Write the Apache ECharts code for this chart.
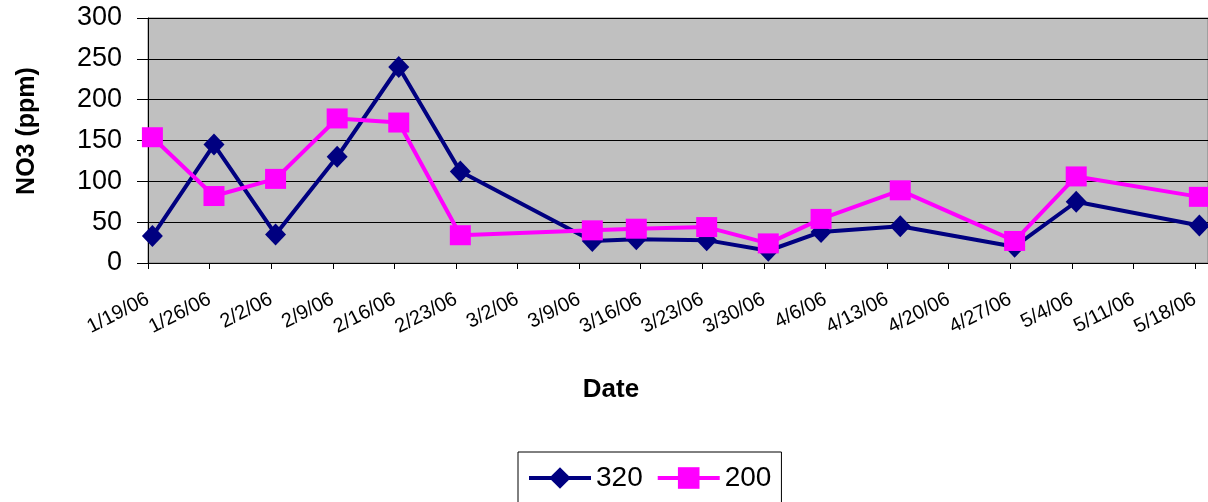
<!DOCTYPE html>
<html>
<head>
<meta charset="utf-8">
<script src="https://cdn.jsdelivr.net/npm/echarts@6/dist/echarts.min.js"></script>
<style>
  html, body { margin: 0; padding: 0; background: #fff; }
  #chart { width: 1208px; height: 502px; }
</style>
</head>
<body>
<div id="chart"></div>
<script>
// ---- data ----
const tickLabels = ['1/19/06','1/26/06','2/2/06','2/9/06','2/16/06','2/23/06','3/2/06','3/9/06',
  '3/16/06','3/23/06','3/30/06','4/6/06','4/13/06','4/20/06','4/27/06','5/4/06','5/11/06','5/18/06'];
const sampleDates = ['2006-01-19','2006-01-26','2006-02-02','2006-02-09','2006-02-16','2006-02-23',
  '2006-03-10','2006-03-15','2006-03-23','2006-03-30','2006-04-05','2006-04-14','2006-04-27',
  '2006-05-04','2006-05-18'];
const no3_320 = [33, 145, 35, 130, 240, 112, 27, 29, 28, 15, 38, 45, 20, 75, 46];
const no3_200 = [154, 82, 103, 177, 172, 34, 40, 42, 44, 24, 54, 89, 27, 106, 81];
const seriesNames = ['320', '200'];
const yTitle = 'NO3 (ppm)';
const xTitle = 'Date';

// ---- helpers ----
const axisStart = Date.UTC(2006, 0, 19);
function dayIndex(s) {
  const p = s.split('-').map(Number);
  return (Date.UTC(p[0], p[1] - 1, p[2]) - axisStart) / 86400000;
}
// Excel date axis places points in the middle of each day slot
function pairs(vals) {
  return sampleDates.map((d, i) => [dayIndex(d) + 0.5, vals[i]]);
}

const FONT = "'Liberation Sans', Arial, sans-serif";
const chart = echarts.init(document.getElementById('chart'), null, { renderer: 'canvas' });

chart.setOption({
  animation: false,
  backgroundColor: '#ffffff',
  textStyle: { fontFamily: FONT },
  grid: {
    left: 148, top: 18, right: -2, bottom: 239,
    show: true, backgroundColor: '#C0C0C0', borderColor: '#808080', borderWidth: 1
  },
  xAxis: {
    type: 'value',
    min: 0,
    max: 120.48,
    interval: 7,
    axisLine: { show: true, onZero: false, lineStyle: { color: '#000', width: 1 } },
    axisTick: { show: true, length: 6, inside: false, lineStyle: { color: '#000', width: 1 } },
    splitLine: { show: false },
    axisLabel: {
      rotate: 27,
      margin: 35,
      fontSize: 20,
      color: '#000',
      fontFamily: FONT,
      showMaxLabel: false,
      formatter: function (v) {
        const k = Math.round(v / 7);
        if (Math.abs(v - k * 7) > 1e-6) return '';
        return tickLabels[k] || '';
      }
    }
  },
  yAxis: {
    type: 'value',
    min: 0,
    max: 300,
    interval: 50,
    axisLine: { show: true, lineStyle: { color: '#000', width: 1 } },
    axisTick: { show: true, length: 11, lineStyle: { color: '#000', width: 1 } },
    splitLine: { show: true, lineStyle: { color: '#000', width: 1 } },
    axisLabel: { fontSize: 27, color: '#000', margin: 26, fontFamily: FONT }
  },
  legend: {
    left: 518,
    top: 452,
    orient: 'horizontal',
    itemWidth: 62,
    itemHeight: 27,
    itemGap: 13,
    padding: [12, 10, 14, 9],
    borderColor: '#000',
    borderWidth: 1,
    backgroundColor: '#fff',
    lineStyle: { width: 4 },
    textStyle: { fontSize: 28, color: '#000', fontFamily: FONT },
    data: seriesNames
  },
  graphic: [
    {
      type: 'text',
      x: 27, y: 131,
      rotation: Math.PI / 2,
      style: {
        text: yTitle,
        font: "bold 25px 'Liberation Sans', Arial, sans-serif",
        fill: '#000',
        textAlign: 'center',
        textVerticalAlign: 'middle'
      }
    },
    {
      type: 'text',
      x: 611, y: 390,
      style: {
        text: xTitle,
        font: "bold 26px 'Liberation Sans', Arial, sans-serif",
        fill: '#000',
        textAlign: 'center',
        textVerticalAlign: 'middle'
      }
    }
  ],
  series: [
    {
      name: seriesNames[0],
      type: 'line',
      data: pairs(no3_320),
      symbol: 'diamond',
      symbolSize: [21, 22],
      lineStyle: { color: '#000080', width: 4 },
      itemStyle: { color: '#000080' },
      z: 2
    },
    {
      name: seriesNames[1],
      type: 'line',
      data: pairs(no3_200),
      symbol: 'rect',
      symbolSize: [21, 20],
      lineStyle: { color: '#FF00FF', width: 4 },
      itemStyle: { color: '#FF00FF' },
      z: 3
    }
  ]
});
</script>
</body>
</html>
